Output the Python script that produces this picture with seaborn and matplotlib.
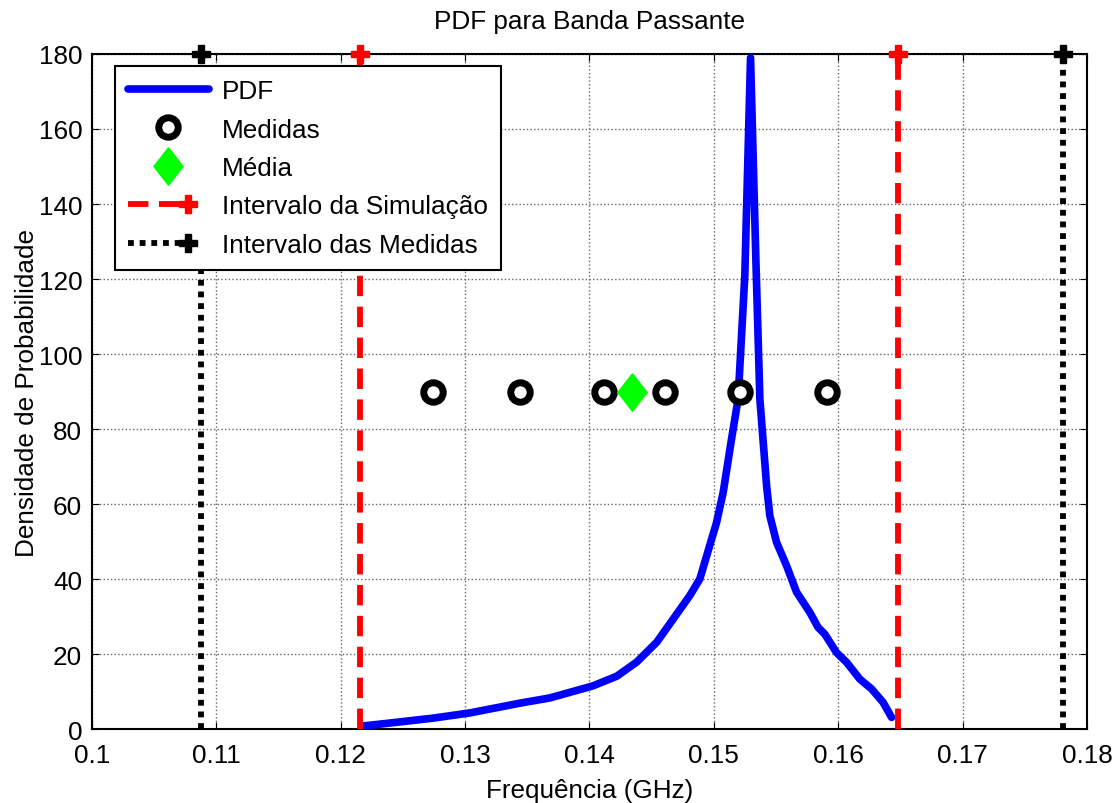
"""PDF da banda passante com medidas e intervalos."""

import matplotlib

matplotlib.use("Agg")
import matplotlib.pyplot as plt
import numpy as np
import pandas as pd
import seaborn as sns
from matplotlib.legend_handler import HandlerLine2D

# curva PDF (frequencia em GHz, densidade)
pdf_freq = [
    0.12178, 0.12476, 0.12741, 0.13039, 0.13441, 0.13682, 0.14027, 0.14220,
    0.14381, 0.14542, 0.14807, 0.14887, 0.15022, 0.15075, 0.15142, 0.15195,
    0.15249, 0.15295, 0.15338, 0.15370, 0.15424, 0.15450, 0.15504, 0.15584,
    0.15665, 0.15772, 0.15838, 0.15892, 0.15986, 0.16067, 0.16174, 0.16268,
    0.16361, 0.16429,
]
pdf_dens = [
    0.8, 1.9, 2.9, 4.3, 6.9, 8.3, 11.5, 14.1,
    17.9, 23.2, 35.6, 40.0, 55.1, 63.1, 77.3, 88.0,
    121.0, 179.0, 125.0, 88.0, 64.9, 56.9, 49.8, 43.6,
    36.5, 31.1, 27.1, 25.3, 20.4, 17.8, 13.3, 10.7,
    7.1, 3.1,
]

medidas = [0.1274, 0.1344, 0.1412, 0.1461, 0.1521, 0.1591]
medidas_y = 90
media = 0.1434

intervalo_sim = [0.12154, 0.1648]
intervalo_med = [0.1088, 0.1781]
linha_y = [0, 180]

FS = 18.8


class EndMarkerHandler(HandlerLine2D):
    """Legend entry with the marker at the end of the line, like MATLAB."""

    def create_artists(self, legend, orig_handle, xdescent, ydescent,
                       width, height, fontsize, trans):
        artists = super().create_artists(
            legend, orig_handle, xdescent, ydescent, width, height, fontsize, trans
        )
        line = artists[0]
        xd = np.asarray(line.get_xdata(), dtype=float)
        yd = np.asarray(line.get_ydata(), dtype=float)
        x0, x1 = xd[0], xd[-1]
        xm = x0 + 0.74 * (x1 - x0)
        line.set_data([x0, xm], [yd[0], yd[0]])
        line.set_markevery([1])
        for extra in artists[1:]:
            extra.set_data([xm], [yd[0]])
        return artists


sns.set_style("ticks")
plt.rcParams["font.family"] = ["Liberation Sans", "DejaVu Sans"]
plt.rcParams["font.size"] = FS
plt.rcParams["text.color"] = "black"
plt.rcParams["axes.labelcolor"] = "black"
plt.rcParams["xtick.color"] = "black"
plt.rcParams["ytick.color"] = "black"

# losango um pouco mais largo que o 'd' padrao
diamond = [(0, 1), (0.78, 0), (0, -1), (-0.78, 0), (0, 1)]

fig = plt.figure(figsize=(11.16, 8.04), dpi=100)
ax = fig.add_axes([0.0824, 0.092, 0.8916, 0.8396])

curve = pd.DataFrame({"freq": pdf_freq, "dens": pdf_dens})
sns.lineplot(data=curve, x="freq", y="dens", color="#0000ff", linewidth=5.5,
             sort=False, ax=ax, label="PDF", zorder=3)

pts = pd.DataFrame({"freq": medidas, "dens": [medidas_y] * len(medidas)})
ax.plot(pts["freq"], pts["dens"], linestyle="none", marker="o", markersize=14,
        markerfacecolor="white", markeredgecolor="black", markeredgewidth=5,
        label="Medidas", zorder=4)
ax.plot([media], [medidas_y], linestyle="none", marker=diamond, markersize=27,
        markerfacecolor="#00ff00", markeredgecolor="#00ff00", markeredgewidth=1,
        label="Média", zorder=4)

interval_handles = []
for i, x in enumerate(intervalo_sim):
    (h,) = ax.plot([x, x], linha_y, color="red", linestyle=(0, (3.5, 1.8)),
                   linewidth=4.2, marker="P", markersize=13, markevery=[1],
                   clip_on=False, zorder=5,
                   label="Intervalo da Simulação" if i == 0 else None)
    if i == 0:
        interval_handles.append(h)
for i, x in enumerate(intervalo_med):
    (h,) = ax.plot([x, x], linha_y, color="black", linestyle=(0, (1, 1)),
                   linewidth=4.2, marker="P", markersize=13, markevery=[1],
                   clip_on=False, zorder=5,
                   label="Intervalo das Medidas" if i == 0 else None)
    if i == 0:
        interval_handles.append(h)

ax.set_xlim(0.1, 0.18)
ax.set_ylim(0, 180)
ax.set_xticks(np.arange(0.1, 0.1801, 0.01))
ax.set_xticklabels(["0.1", "0.11", "0.12", "0.13", "0.14", "0.15", "0.16", "0.17", "0.18"])
ax.set_yticks(np.arange(0, 181, 20))
ax.grid(True, color="#666666", linestyle=":", linewidth=1)
ax.tick_params(direction="in", top=True, right=True, length=5, labelsize=FS)
ax.tick_params(axis="x", pad=10)
ax.tick_params(axis="y", pad=7)
for side in ax.spines.values():
    side.set_color("black")
    side.set_linewidth(1.5)

ax.set_xlabel("Frequência (GHz)", fontsize=FS, labelpad=8)
ax.set_ylabel("Densidade de Probabilidade", fontsize=FS, labelpad=0)
ax.set_title("PDF para Banda Passante", fontsize=FS, pad=19)

leg = ax.legend(loc="upper left", bbox_to_anchor=(0.023, 0.982), fontsize=FS,
                frameon=True, fancybox=False, edgecolor="black", framealpha=1,
                handlelength=3.1, borderpad=0.5, labelspacing=0.55,
                handletextpad=0.5, borderaxespad=0,
                handler_map={h: EndMarkerHandler() for h in interval_handles})
leg.get_frame().set_linewidth(1.5)

fig.savefig("out.png", dpi=100)
